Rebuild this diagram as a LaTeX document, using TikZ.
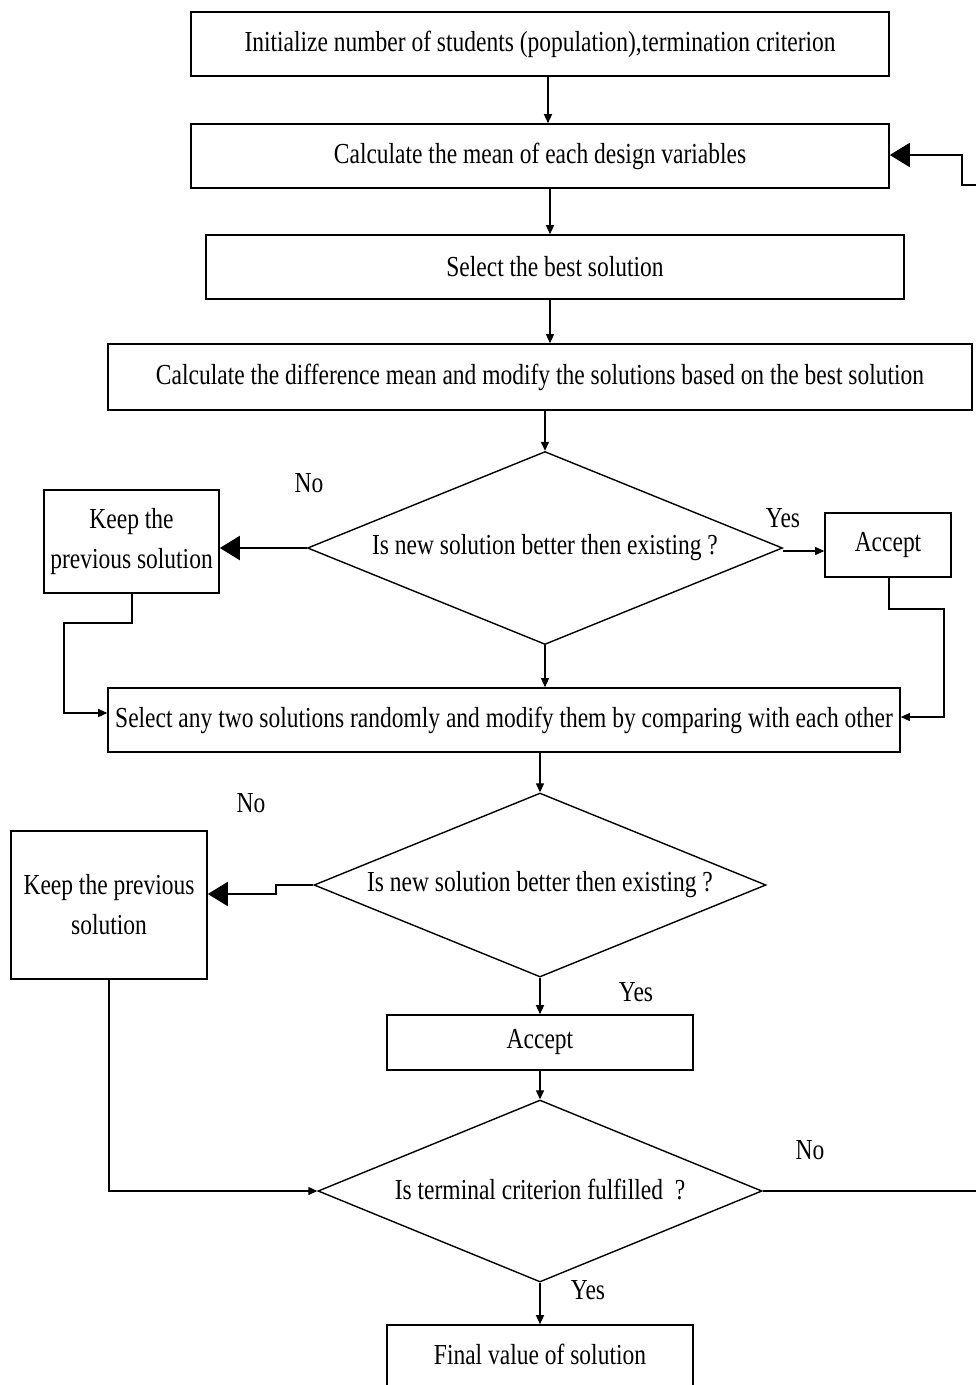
\documentclass[tikz,border=0pt]{standalone}
\usepackage{fontspec}
\setmainfont[FakeStretch=0.81]{Liberation Serif}
\usetikzlibrary{shapes.geometric,arrows.meta}
\begin{document}
\begin{tikzpicture}[x=1pt,y=-1pt,
  every node/.style={font=\fontsize{29pt}{40pt}\selectfont},
  box/.style={draw,line width=1.6pt,inner sep=0pt,align=center},
  dia/.style={draw,diamond,line width=1.4pt,inner sep=0pt,shape aspect=2.4,align=center},
  arr/.style={line width=1.3pt,-{Triangle[length=9pt,width=8pt]}},
  bigarr/.style={line width=2pt,-{Triangle[length=20pt,width=24pt]}},
  ln/.style={line width=1.3pt},
  lbl/.style={inner sep=0pt}]
\useasboundingbox (0,0) rectangle (976,1385);
% boxes
\node[box,minimum width=698pt,minimum height=64pt] (b1) at (540,44) {Initialize number of students (population),termination criterion};
\node[box,minimum width=698pt,minimum height=64pt] (b2) at (540,156) {Calculate the mean of each design variables};
\node[box,minimum width=698pt,minimum height=64pt] (b3) at (555,267) {Select the best solution};
\node[box,minimum width=864pt,minimum height=66pt] (b4) at (540,377) {Calculate the difference mean and modify the solutions based on the best solution};
\node[dia,minimum width=475pt,minimum height=193pt] (d1) at (545,548) {Is new solution better then existing ?};
\node[box,minimum width=175pt,minimum height=103pt] (k1) at (131.5,541.5) {Keep the\\previous solution};
\node[box,minimum width=126pt,minimum height=64pt] (a1) at (888,545) {Accept};
\node[box,minimum width=792pt,minimum height=64pt] (b5) at (504,720) {Select any two solutions randomly and modify them by comparing with each other};
\node[dia,minimum width=452pt,minimum height=184pt] (d2) at (540,885) {Is new solution better then existing ?};
\node[box,minimum width=196pt,minimum height=148pt] (k2) at (109,905) {Keep the previous\\solution};
\node[box,minimum width=306pt,minimum height=55pt] (a2) at (540,1042.5) {Accept};
\node[dia,minimum width=444pt,minimum height=182pt] (d3) at (540,1191) {\raisebox{3pt}{Is terminal criterion fulfilled\ \ ?}};
\node[box,minimum width=306pt,minimum height=65pt,text depth=0pt] (f) at (540,1357.5) {\raisebox{6pt}{Final value of solution}};
% labels
\node[lbl] (no1) at (309,483) {No};
\node[lbl] (yes1) at (783,518) {Yes};
\node[lbl] (no2) at (251,803) {No};
\node[lbl] (yes2) at (636,992) {Yes};
\node[lbl] (no3) at (810,1150) {No};
\node[lbl] (yes3) at (588,1290) {Yes};
% main flow
\draw[arr] ([xshift=8pt]b1.south) -- ([xshift=8pt]b1.south |- b2.north);
\draw[arr] ([xshift=10pt]b2.south) -- ([xshift=10pt]b2.south |- b3.north);
\draw[arr] ([xshift=-5pt]b3.south) -- ([xshift=-5pt]b3.south |- b4.north);
\draw[arr] (b4.south -| d1.north) -- (d1.north);
\draw[bigarr] (d1.west) -- (k1.east |- d1.west);
\draw[arr] ([yshift=-3pt]d1.east) -- ([yshift=-3pt]d1.east -| a1.west);
\draw[arr] (d1.south) -- (d1.south |- b5.north);
\coordinate (k1a) at (132,623);
\coordinate (k1b) at (64,623);
\draw[arr] (k1.south -| k1a) -- (k1a) -- (k1b) -- (k1b |- 0,713) -- (b5.west |- 0,713);
\coordinate (a1a) at (889,609);
\coordinate (a1b) at (944,609);
\draw[arr] (a1.south -| a1a) -- (a1a) -- (a1b) -- (a1b |- 0,717) -- (b5.east |- 0,717);
\draw[arr] (b5.south -| d2.north) -- (d2.north);
\coordinate (d2a) at (276,885);
\draw[bigarr] (d2.west) -- (d2a) -- (d2a |- 0,894) -- (k2.east |- 0,894);
\draw[arr] (d2.south) -- (a2.north);
\draw[arr] (a2.south) -- (d3.north);
\draw[arr] (k2.south) -- (k2.south |- d3.west) -- (d3.west);
\draw[arr] (d3.south) -- (f.north);
% loop back
\coordinate (lpx) at (985,0);
\coordinate (lp2) at (985,185);
\coordinate (lp3) at (962,185);
\coordinate (lp4) at (962,155);
\draw[bigarr] (d3.east) -- (d3.east -| lpx) -- (lp2) -- (lp3) -- (lp4) -- (b2.east |- lp4);
\end{tikzpicture}
\end{document}
